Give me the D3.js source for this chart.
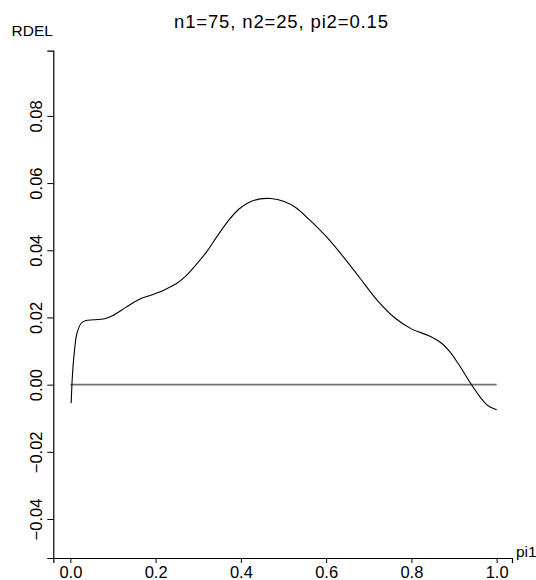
<!DOCTYPE html>
<html>
<head>
<meta charset="utf-8">
<script src="https://cdn.jsdelivr.net/npm/d3@7"></script>
<style>
  html, body { margin: 0; padding: 0; background: #fff; }
  svg { display: block; font-family: "Liberation Sans", Arial, Helvetica, sans-serif; }
</style>
</head>
<body>
<svg id="chart" width="536" height="580"></svg>
<script>
// RDEL as a function of pi1 (n1=75, n2=25, pi2=0.15)
const pi1 = [0.002, 0.005, 0.010, 0.015, 0.025, 0.035, 0.055, 0.080, 0.100, 0.130,
             0.160, 0.195, 0.225, 0.250, 0.270, 0.295, 0.320, 0.345, 0.370, 0.395,
             0.420, 0.445, 0.470, 0.500, 0.530, 0.560, 0.600, 0.640, 0.680, 0.720,
             0.760, 0.800, 0.840, 0.870, 0.890, 0.910, 0.940, 0.960, 0.980, 1.000];
const rdel = [-0.0055, 0.0030, 0.0105, 0.0150, 0.0182, 0.0190, 0.0193, 0.0196, 0.0206, 0.0230,
              0.0253, 0.0269, 0.0285, 0.0302, 0.0322, 0.0357, 0.0396, 0.0443, 0.0487, 0.0522,
              0.0543, 0.0553, 0.0554, 0.0546, 0.0526, 0.0492, 0.0441, 0.0381, 0.0316, 0.0251,
              0.0200, 0.0166, 0.0146, 0.0124, 0.0098, 0.0062, 0.0002, -0.0035, -0.0063, -0.0075];
const refLine = [0, 1];            // pi1 span of the zero reference line
const xTicks = [0, 0.2, 0.4, 0.6, 0.8, 1.0];
const yTicks = [-0.04, -0.02, 0, 0.02, 0.04, 0.06, 0.08];
const title = "n1=75, n2=25, pi2=0.15";
const yLabel = "RDEL";
const xLabel = "pi1";

const svg = d3.select("#chart");

const x = d3.scaleLinear().domain([-0.04, 1.036]).range([53.3, 512]);
const y = d3.scaleLinear().domain([-0.0516, 0.0994]).range([558, 50.7]);

const fmt = d3.format(".2f");

// y axis
const yAxis = svg.append("g")
  .attr("transform", `translate(${x.range()[0]},0)`)
  .call(d3.axisLeft(y).tickValues(yTicks).tickSizeOuter(0).tickSize(6)
        .tickFormat(d => fmt(d).replace("-", "\u2212")));
yAxis.select(".domain").attr("stroke", "#000").attr("stroke-width", 1.2);
yAxis.selectAll(".tick line").attr("stroke", "#000");
yAxis.selectAll(".tick text")
  .attr("font-size", 16.5)
  .attr("font-family", "Liberation Sans, Arial, sans-serif")
  .attr("fill", "#000")
  .attr("text-anchor", "middle")
  .attr("x", 0).attr("dy", 0)
  .attr("transform", "translate(-11,0) rotate(-90)");

// x axis
const xAxis = svg.append("g")
  .attr("transform", `translate(0,${y.range()[0]})`)
  .call(d3.axisBottom(x).tickValues(xTicks).tickSizeOuter(0).tickSize(5)
        .tickFormat(d3.format(".1f")));
xAxis.select(".domain").attr("stroke", "#000").attr("stroke-width", 1.2);
xAxis.selectAll(".tick line").attr("stroke", "#000");
xAxis.selectAll(".tick text")
  .attr("font-size", 16.5)
  .attr("font-family", "Liberation Sans, Arial, sans-serif")
  .attr("fill", "#000")
  .attr("y", 20).attr("dy", 0);

// zero reference line
svg.append("line")
  .attr("x1", x(refLine[0])).attr("x2", x(refLine[1]))
  .attr("y1", y(0)).attr("y2", y(0))
  .attr("stroke", "#707070").attr("stroke-width", 1.6);

// RDEL curve
const line = d3.line()
  .x((d, i) => x(pi1[i]))
  .y(d => y(d))
  .curve(d3.curveCatmullRom.alpha(0.5));
svg.append("path")
  .attr("d", line(rdel))
  .attr("fill", "none")
  .attr("stroke", "#000")
  .attr("stroke-width", 1.1);

// labels
svg.append("text")
  .attr("x", 281).attr("y", 28)
  .attr("text-anchor", "middle")
  .attr("font-size", 18.5)
  .attr("textLength", 214).attr("lengthAdjust", "spacing")
  .text(title);
svg.append("text")
  .attr("x", 11.5).attr("y", 36)
  .attr("font-size", 15.5)
  .text(yLabel);
svg.append("text")
  .attr("x", 516).attr("y", 557)
  .attr("font-size", 15.5)
  .text(xLabel);
</script>
</body>
</html>
